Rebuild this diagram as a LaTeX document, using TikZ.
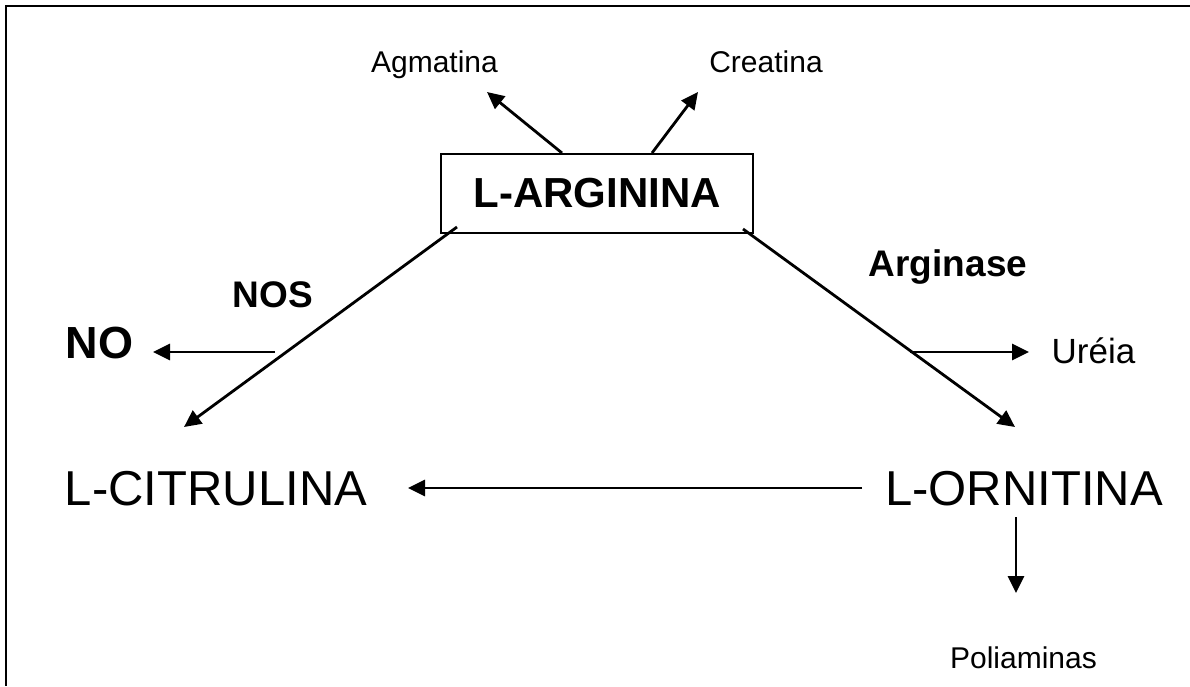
\documentclass[tikz,border=0pt]{standalone}
\usepackage{fontspec}
\setmainfont{Liberation Sans}
\usetikzlibrary{arrows.meta}
\begin{document}
\begin{tikzpicture}[x=1pt,y=1pt,
  lbl/.style={inner sep=0pt,anchor=base},
  small/.style={lbl,font=\fontsize{30}{36}\selectfont},
  mid/.style={lbl,font=\fontsize{35}{42}\selectfont},
  big/.style={lbl,font=\fontsize{49}{58}\selectfont},
  enz/.style={lbl,font=\fontsize{37}{44}\selectfont\bfseries},
  arr/.style={line width=2.8pt,-{Triangle[length=17pt,width=16pt]}},
  frame/.style={line width=2.5pt}]
\useasboundingbox (0,0) rectangle (1190,-686);
% frame (top and left only)
\draw[frame] (1190,-6) -- (6,-6) -- (6,-686);
% central box
\node[draw,line width=2pt,minimum width=312pt,minimum height=79pt,inner sep=0pt,
      font=\fontsize{42}{50}\selectfont\bfseries] (arg) at (597,-193.5) {L-ARGININA};
% labels
\node[small] (agm) at (434.5,-72) {Agmatina};
\node[small] (cre) at (766,-72) {Creatina};
\node[enz] (nos) at (273,-307) {NOS};
\node[lbl,font=\fontsize{45}{54}\selectfont\bfseries] (no) at (99.5,-358) {NO};
\node[enz] (argi) at (948,-276) {Arginase};
\node[mid] (ure) at (1093.5,-363) {Uréia};
\node[big] (cit) at (216,-505) {L-CITRULINA};
\node[big] (orn) at (1024,-505) {L-ORNITINA};
\node[small] (pol) at (1023.5,-668) {Poliaminas};
% connector end points
\coordinate (agmT) at (487,-92);
\coordinate (creT) at (698,-92);
\coordinate (nosS) at (457,-227);
\coordinate (citT) at (184,-427);
\coordinate (noS) at (275,-352);
\coordinate (noT) at (153,-352);
\coordinate (argS) at (743,-229);
\coordinate (ornT) at (1015,-427);
\coordinate (ureS) at (910,-352);
\coordinate (ureT) at (1029,-352);
\coordinate (ornS) at (862,-488);
\coordinate (citE) at (408,-488);
\coordinate (polS) at (1016,-517);
\coordinate (polT) at (1016,-593);
% connectors
\draw[arr] ([xshift=-35pt]arg.north) -- (agmT);
\draw[arr] ([xshift=55pt]arg.north) -- (creT);
\draw[arr] (nosS) -- (citT);
\draw[arr] (noS) -- (noT);
\draw[arr] (argS) -- (ornT);
\draw[arr] (ureS) -- (ureT);
\draw[arr] (ornS) -- (citE);
\draw[arr] (polS) -- (polT);
\end{tikzpicture}
\end{document}
